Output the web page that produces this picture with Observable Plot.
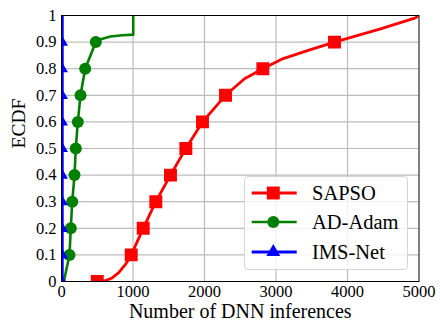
<!DOCTYPE html>
<html><head><meta charset="utf-8">
<script src="https://cdn.jsdelivr.net/npm/d3@7"></script>
<script src="https://cdn.jsdelivr.net/npm/@observablehq/plot@0.6"></script>
<style>
body{margin:0;background:#fff;}
#wrap{position:relative;width:440px;height:322px;font-family:'Liberation Serif';}
#legend{position:absolute;left:244px;top:176px;width:162px;height:92px;border:1px solid #d5d5d5;border-radius:4px;background:rgba(255,255,255,0.8);}
.row{position:absolute;left:0;height:26px;width:160px;}
.row svg{position:absolute;left:0;top:0;}
.row span{position:absolute;left:67px;top:1px;font-size:20.5px;line-height:24px;color:#000;font-family:'Liberation Serif';}
</style></head><body><div id="wrap"><div id="legend"></div></div>
<script>
const xTicks = [0, 1000, 2000, 3000, 4000, 5000];
const yTicks = [0, 0.1, 0.2, 0.3, 0.4, 0.5, 0.6, 0.7, 0.8, 0.9, 1];
const yTickLabels = ["0", "0.1", "0.2", "0.3", "0.4", "0.5", "0.6", "0.7", "0.8", "0.9", "1"];
const seriesNames = ["SAPSO", "AD-Adam", "IMS-Net"];
const seriesColors = ["#ff0000", "#008000", "#0000ff"];
const seriesSymbols = ["square", "circle", "triangle"];

// SAPSO curve
const sapsoLineX = [500, 600, 700, 800, 900, 975, 1143, 1319, 1524, 1739, 1972, 2294, 2560, 2816, 3100, 3450, 3818, 4462, 4951, 5000];
const sapsoLineY = [0, 0.002, 0.012, 0.033, 0.066, 0.1, 0.2, 0.3, 0.4, 0.5, 0.6, 0.7, 0.762, 0.8, 0.838, 0.869, 0.9, 0.95, 0.991, 1];
const sapsoMarkX = [500, 975, 1143, 1319, 1524, 1739, 1972, 2294, 2816, 3818];
const sapsoMarkY = [0, 0.1, 0.2, 0.3, 0.4, 0.5, 0.6, 0.7, 0.8, 0.9];

// AD-Adam curve
const adamLineX = [32, 112, 130, 150, 182, 200, 228, 266, 331, 480, 560, 685, 850, 1003, 1003];
const adamLineY = [0, 0.1, 0.2, 0.3, 0.4, 0.5, 0.6, 0.7, 0.8, 0.9, 0.912, 0.921, 0.926, 0.928, 1];
const adamMarkX = [112, 130, 150, 182, 200, 228, 266, 331, 480];
const adamMarkY = [0.1, 0.2, 0.3, 0.4, 0.5, 0.6, 0.7, 0.8, 0.9];

// IMS-Net curve
const imsLineX = [10, 10];
const imsLineY = [0, 1];
const imsMarkX = [4, 4, 4, 4, 4, 4, 4, 4, 4, 4];
const imsMarkY = [0, 0.1, 0.2, 0.3, 0.4, 0.5, 0.6, 0.7, 0.8, 0.9];

const zip = (xs, ys) => xs.map((x, i) => ({x, y: ys[i]}));
const lines = [zip(sapsoLineX, sapsoLineY), zip(adamLineX, adamLineY), zip(imsLineX, imsLineY)];
const marks = [zip(sapsoMarkX, sapsoMarkY), zip(adamMarkX, adamMarkY), zip(imsMarkX, imsMarkY)];
const markR = [7.3, 6, 4.6];
const lineW = [2.8, 2.6, 3];

const font = "Liberation Serif";
const seriesMarks = [];
lines.forEach((d, i) => {
  seriesMarks.push(Plot.line(d, {x: "x", y: "y", stroke: seriesColors[i], strokeWidth: lineW[i], clip: true}));
  seriesMarks.push(Plot.dot(marks[i], {x: "x", y: "y", symbol: seriesSymbols[i], r: markR[i], fill: seriesColors[i], stroke: "none", clip: true}));
});

const chart = Plot.plot({
  width: 440, height: 322,
  marginLeft: 61, marginTop: 15, marginRight: 21.5, marginBottom: 41,
  x: {domain: [0, 5000]},
  y: {domain: [0, 1]},
  style: {fontFamily: font, background: "white", color: "black"},
  marks: [
    Plot.ruleX(xTicks.slice(1, -1), {stroke: "#bcbcbc", strokeWidth: 1.2}),
    Plot.ruleY(yTicks.slice(1, -1), {stroke: "#bcbcbc", strokeWidth: 1.2}),
    ...seriesMarks,
    Plot.frame({stroke: "black", strokeWidth: 1}),
    Plot.axisX({ticks: xTicks, tickSize: 0, tickPadding: 4, fontSize: 16.5, label: null, tickFormat: d => String(d)}),
    Plot.axisY({ticks: yTicks, tickSize: 0, tickPadding: 5, fontSize: 16.5, label: null, tickFormat: d => yTickLabels[yTicks.indexOf(d)]}),
    Plot.text(["Number of DNN inferences"], {frameAnchor: "bottom", dy: 30, fontSize: 20, text: d => d, lineAnchor: "middle"}),
    Plot.text(["ECDF"], {frameAnchor: "left", dx: -43, rotate: -90, fontSize: 19.5, text: d => d})
  ]
});
const wrap = document.getElementById("wrap");
wrap.insertBefore(chart, wrap.firstChild);

const legend = d3.select("#legend");
const symSize = [Math.PI * 7.3 * 7.3, Math.PI * 6 * 6, Math.PI * 5.2 * 5.2];
const symType = {square: d3.symbolSquare, circle: d3.symbolCircle, triangle: d3.symbolTriangle};
seriesNames.forEach((name, i) => {
  const row = legend.append("div").attr("class", "row").style("top", (3 + i * 29.4) + "px");
  const svg = row.append("svg").attr("width", 60).attr("height", 26);
  svg.append("line").attr("x1", 6.7).attr("x2", 51.7).attr("y1", 13).attr("y2", 13)
    .attr("stroke", seriesColors[i]).attr("stroke-width", lineW[i]);
  svg.append("path").attr("transform", "translate(28.3,13)")
    .attr("d", d3.symbol(symType[seriesSymbols[i]], symSize[i])()).attr("fill", seriesColors[i]);
  row.append("span").text(name);
});
</script>
</body></html>
